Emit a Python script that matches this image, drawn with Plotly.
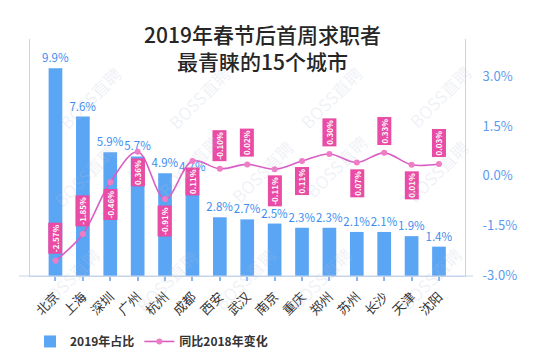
import plotly.graph_objects as go

# ---- data ----
cities = ["北京", "上海", "深圳", "广州", "杭州", "成都", "西安", "武汉",
          "南京", "重庆", "郑州", "苏州", "长沙", "天津", "沈阳"]
share_2019 = [9.9, 7.6, 5.9, 5.7, 4.9, 4.7, 2.8, 2.7, 2.5, 2.3, 2.3, 2.1, 2.1, 1.9, 1.4]
change_vs_2018 = [-2.57, -1.85, -0.46, 0.36, -0.91, 0.11, -0.10, 0.02,
                  -0.11, 0.11, 0.30, 0.07, 0.33, 0.01, 0.03]
label_side = ["above", "above", "below", "below", "below", "below", "above", "above",
              "below", "below", "above", "below", "above", "below", "above"]
right_ticks = [-3.0, -1.5, 0.0, 1.5, 3.0]
title_text = "2019年春节后首周求职者<br>最青睐的15个城市"

FONT = "Noto Sans CJK SC, Noto Sans, sans-serif"
W, H = 535, 353
ML, MR, MT, MB = 30, 70, 39, 77
PW, PH = W - ML - MR, H - MT - MB


def px(x, y):
    return (x - ML) / PW, (H - MB - y) / PH


fig = go.Figure()
fig.add_trace(go.Bar(
    x=cities, y=share_2019, name="2019年占比", width=0.5,
    marker=dict(color="#5aa5f4", line=dict(width=0)),
    text=[f"{v:.1f}%" for v in share_2019], textposition="outside",
    constraintext="none",
    textfont=dict(color="#3d8ef0", size=11.5, family=FONT), cliponaxis=False,
    hoverinfo="skip"))
fig.add_trace(go.Scatter(
    x=cities, y=change_vs_2018, name="同比2018年变化", yaxis="y3",
    mode="lines+markers",
    line=dict(color="#d95ec4", width=1.6, shape="spline", smoothing=1.0),
    marker=dict(size=6, color="#f07cc6"), cliponaxis=False, hoverinfo="skip"))
fig.add_trace(go.Scatter(x=[], y=[], yaxis="y2", showlegend=False, hoverinfo="skip"))

annotations = []
# change labels
for c, v, s in zip(cities, change_vs_2018, label_side):
    annotations.append(dict(
        x=c, y=v, xref="x", yref="y3", text=f"<b>{v:.2f}%</b>", showarrow=False,
        textangle=-90, font=dict(color="white", size=8, family=FONT),
        bgcolor="#e94ca4", borderpad=1,
        yanchor="bottom" if s == "above" else "top",
        yshift=7 if s == "above" else -6))

# title
xp, yp = px(262, 47)
annotations.append(dict(x=xp, y=yp, xref="paper", yref="paper", text=title_text,
                        showarrow=False, xanchor="center", yanchor="middle",
                        font=dict(size=21, color="#262626", family="Noto Sans CJK SC",
                                  weight=500)))

# watermarks
for (wx, wy) in [(51, 58), (160, 58), (370, 58), (479, 57),
                 (45, 175), (150, 165), (262, 171), (375, 166), (476, 171),
                 (30, 318), (128, 320), (245, 318), (360, 318), (470, 318)]:
    xw, yw = px(wx, wy)
    annotations.append(dict(x=xw, y=yw, xref="paper", yref="paper", text="BOSS直聘",
                            showarrow=False, textangle=-45,
                            font=dict(size=17, color="rgba(185,195,215,0.22)", family=FONT)))

axis_col = "#c6d4ea"
x0p, _ = px(19, 0)
x1p, _ = px(473, 0)
fig.update_layout(
    width=W, height=H, margin=dict(l=ML, r=MR, t=MT, b=MB, autoexpand=False),
    paper_bgcolor="white", plot_bgcolor="white",
    font=dict(family=FONT, color="#333333"),
    showlegend=True,
    legend=dict(orientation="h", x=0.0, xanchor="left", y=-0.215, yanchor="top",
                font=dict(size=12, color="#333333", family=FONT, weight="bold"),
                itemwidth=30, traceorder="normal"),
    xaxis=dict(range=[-0.93, 14.95], showline=True, linecolor=axis_col, linewidth=1,
               ticks="outside", ticklen=4, tickwidth=2, tickcolor="#8ab8ee",
               tickangle=-45, tickfont=dict(size=13, color="#333333", family=FONT),
               ticklabelstandoff=3,
               showgrid=False, zeroline=False, fixedrange=True, automargin=False),
    yaxis=dict(range=[0, 11.3], showline=True, linecolor=axis_col, linewidth=1,
               showticklabels=False, showgrid=False, zeroline=False, ticks="",
               automargin=False),
    yaxis2=dict(overlaying="y", side="right", range=[-3.03, 4.14],
                tickvals=right_ticks, ticktext=[f"{t:.1f}%" for t in right_ticks],
                tickfont=dict(size=13, color="#5b9bef", family=FONT),
                showline=True, linecolor=axis_col, linewidth=1, showgrid=False,
                zeroline=False, ticks="", ticklabelstandoff=14, automargin=False),
    yaxis3=dict(overlaying="y", range=[-2.98, 3.39], visible=False),
    annotations=annotations,
    shapes=[dict(type="line", xref="paper", yref="paper", x0=x0p, x1=x1p, y0=0, y1=0,
                 line=dict(color=axis_col, width=1))],
)
fig.write_html("out.html")
